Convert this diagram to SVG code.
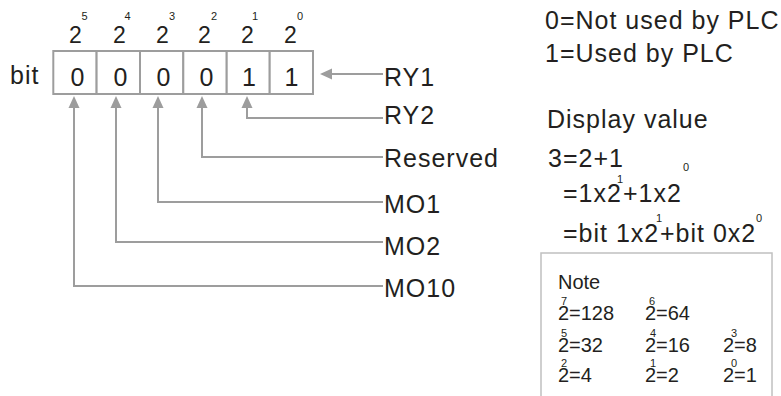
<svg xmlns="http://www.w3.org/2000/svg" width="781" height="396" viewBox="0 0 781 396">
<style>
text{font-family:"Liberation Sans",Arial,Helvetica,sans-serif;fill:#231f20}
.t{font-size:25px;letter-spacing:1px}
.d{font-size:25px;text-anchor:middle}
.b2{font-size:23px;text-anchor:middle}
.sup{font-size:11px;letter-spacing:0}
.n{font-size:20px}
.ln{stroke:#9d9d9d;stroke-width:2;fill:none}
.cell{stroke:#9d9d9d;stroke-width:2;fill:#fff}
.note{stroke:#c0c0c0;stroke-width:1.5;fill:none}
</style>
<defs>
<marker id="ah" markerUnits="userSpaceOnUse" viewBox="0 0 12 12" markerWidth="12" markerHeight="12" refX="10" refY="6" orient="auto">
<path d="M0,0.5 L12,6 L0,11.5 z" fill="#9d9d9d"/>
</marker>
</defs>

<g id="weights">
<text class="b2"><tspan x="75.5" y="43">2</tspan><tspan class="sup" x="84.5" y="19.5">5</tspan></text>
<text class="b2"><tspan x="119.5" y="43">2</tspan><tspan class="sup" x="127.5" y="19.5">4</tspan></text>
<text class="b2"><tspan x="162.5" y="43">2</tspan><tspan class="sup" x="172" y="19.5">3</tspan></text>
<text class="b2"><tspan x="204.5" y="43">2</tspan><tspan class="sup" x="214" y="19.5">2</tspan></text>
<text class="b2"><tspan x="247.5" y="43">2</tspan><tspan class="sup" x="255" y="19.5">1</tspan></text>
<text class="b2"><tspan x="290.5" y="43">2</tspan><tspan class="sup" x="300" y="19.5">0</tspan></text>
</g>

<g id="register">
<text class="t" x="10" y="84">bit</text>
<rect class="cell" x="53.3" y="51" width="43.3" height="43"/>
<rect class="cell" x="96.6" y="51" width="43.4" height="43"/>
<rect class="cell" x="140" y="51" width="43.3" height="43"/>
<rect class="cell" x="183.3" y="51" width="43.4" height="43"/>
<rect class="cell" x="226.7" y="51" width="43" height="43"/>
<rect class="cell" x="269.7" y="51" width="43.3" height="43"/>
<text class="d" x="77.5" y="86">0</text>
<text class="d" x="120.5" y="86">0</text>
<text class="d" x="163.5" y="86">0</text>
<text class="d" x="206.5" y="86">0</text>
<text class="d" x="249" y="86">1</text>
<text class="d" x="291.5" y="86">1</text>
</g>

<g id="connectors">
<path class="ln" d="M383,74 H322" marker-end="url(#ah)"/>
<path class="ln" d="M383,118 H247 V98" marker-end="url(#ah)"/>
<path class="ln" d="M383,157 H202 V98" marker-end="url(#ah)"/>
<path class="ln" d="M383,202 H158 V98" marker-end="url(#ah)"/>
<path class="ln" d="M383,242 H116 V98" marker-end="url(#ah)"/>
<path class="ln" d="M383,286 H74 V98" marker-end="url(#ah)"/>
</g>

<g id="label-ry1"><text class="t" x="384" y="86">RY1</text></g>
<g id="label-ry2"><text class="t" x="384" y="124">RY2</text></g>
<g id="label-reserved"><text class="t" x="384" y="167">Reserved</text></g>
<g id="label-mo1"><text class="t" x="384" y="213">MO1</text></g>
<g id="label-mo2"><text class="t" x="384" y="255">MO2</text></g>
<g id="label-mo10"><text class="t" x="384" y="297">MO10</text></g>

<g id="legend">
<text class="t" x="545" y="29">0=Not used by PLC</text>
<text class="t" x="545" y="62">1=Used by PLC</text>
</g>

<g id="display-value">
<text class="t" x="547" y="128">Display value</text>
<text class="t" x="548" y="167">3=2+1</text>
<text class="t"><tspan x="563" y="202">=1x2</tspan><tspan class="sup" x="617" y="183">1</tspan><tspan x="623" y="202">+1x2</tspan><tspan class="sup" x="683" y="171">0</tspan></text>
<text class="t"><tspan x="563" y="242">=bit 1x2</tspan><tspan class="sup" x="656" y="222">1</tspan><tspan x="660" y="242">+bit 0x2</tspan><tspan class="sup" x="756" y="222">0</tspan></text>
</g>

<g id="note">
<rect class="note" x="541" y="253" width="231" height="160"/>
<text class="n" x="558" y="289">Note</text>
<text class="n"><tspan x="558" y="320">2</tspan><tspan class="sup" x="561" y="305">7</tspan><tspan x="569" y="320">=128</tspan></text>
<text class="n"><tspan x="645" y="320">2</tspan><tspan class="sup" x="649" y="305">6</tspan><tspan x="656" y="320">=64</tspan></text>
<text class="n"><tspan x="558" y="352">2</tspan><tspan class="sup" x="561" y="337">5</tspan><tspan x="569" y="352">=32</tspan></text>
<text class="n"><tspan x="645" y="352">2</tspan><tspan class="sup" x="650" y="337">4</tspan><tspan x="656" y="352">=16</tspan></text>
<text class="n"><tspan x="723" y="352">2</tspan><tspan class="sup" x="731" y="337">3</tspan><tspan x="734" y="352">=8</tspan></text>
<text class="n"><tspan x="558" y="382">2</tspan><tspan class="sup" x="561" y="367">2</tspan><tspan x="569" y="382">=4</tspan></text>
<text class="n"><tspan x="645" y="382">2</tspan><tspan class="sup" x="650" y="367">1</tspan><tspan x="656" y="382">=2</tspan></text>
<text class="n"><tspan x="723" y="382">2</tspan><tspan class="sup" x="731" y="367">0</tspan><tspan x="734" y="382">=1</tspan></text>
</g>
</svg>
